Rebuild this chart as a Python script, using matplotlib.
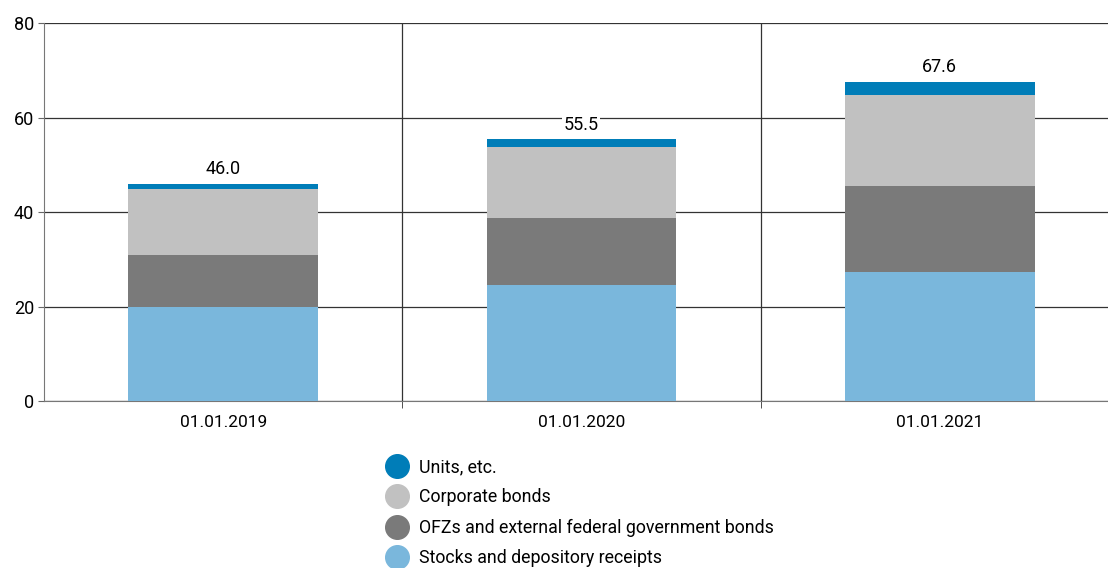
import numpy as np
import matplotlib.pyplot as plt
from matplotlib.lines import Line2D

plt.rcParams['font.family'] = ['Roboto', 'DejaVu Sans']

# data (trillion rubles)
dates = ['01.01.2019', '01.01.2020', '01.01.2021']
stocks = [20.0, 24.5, 27.3]
ofz = [10.9, 14.2, 18.3]
corp = [14.0, 15.1, 19.2]
units = [1.1, 1.7, 2.8]
totals = [46.0, 55.5, 67.6]

names = ['Stocks and depository receipts', 'OFZs and external federal government bonds',
         'Corporate bonds', 'Units, etc.']
colors = ['#7AB7DC', '#7A7A7A', '#C1C1C1', '#007DB8']

fig = plt.figure(figsize=(11.08, 5.68), dpi=100)
# last category runs a bit past the right edge, as in the original
ax = fig.add_axes([0.0397, 0.294, 0.9702, 0.6655])

x = np.arange(len(dates))
bottom = np.zeros(len(dates))
for vals, c in zip([stocks, ofz, corp, units], colors):
    ax.bar(x, vals, 0.53, bottom=bottom, color=c, zorder=3)
    bottom += np.array(vals)

for xi, t in zip(x, totals):
    ax.text(xi, t + 1.1, f'{t:.1f}', ha='center', va='bottom', fontsize=13,
            bbox=dict(facecolor='white', edgecolor='none', pad=1), zorder=4)

ax.set_xlim(-0.5, 2.5)
ax.set_ylim(0, 80)
ax.set_yticks([0, 20, 40, 60, 80])
ax.set_xticks(x)
ax.set_xticklabels(dates)
ax.set_xticks([0.5, 1.5], minor=True)
ax.tick_params(axis='x', which='major', length=0, labelsize=12.5, pad=10)
ax.tick_params(axis='x', which='minor', length=5, color='#333333')
ax.tick_params(axis='y', length=4, labelsize=13, color='#666666', pad=3)

ax.grid(axis='y', color='#333333', lw=0.9, zorder=0)
for s in [0.5, 1.5]:
    ax.axvline(s, color='#333333', lw=0.9, zorder=0)
for sp in ['top', 'right']:
    ax.spines[sp].set_visible(False)
ax.spines['left'].set_color('#777777')
ax.spines['bottom'].set_color('#777777')

handles = [Line2D([], [], marker='o', ls='none', markersize=17, color=c)
           for c in colors[::-1]]
fig.legend(handles, names[::-1], loc='upper left', bbox_to_anchor=(0.3405, 0.2095),
           frameon=False, fontsize=12.8, labelspacing=0.7, handletextpad=0.65,
           borderpad=0, handlelength=1.2)

fig.savefig('out.png', dpi=100)
